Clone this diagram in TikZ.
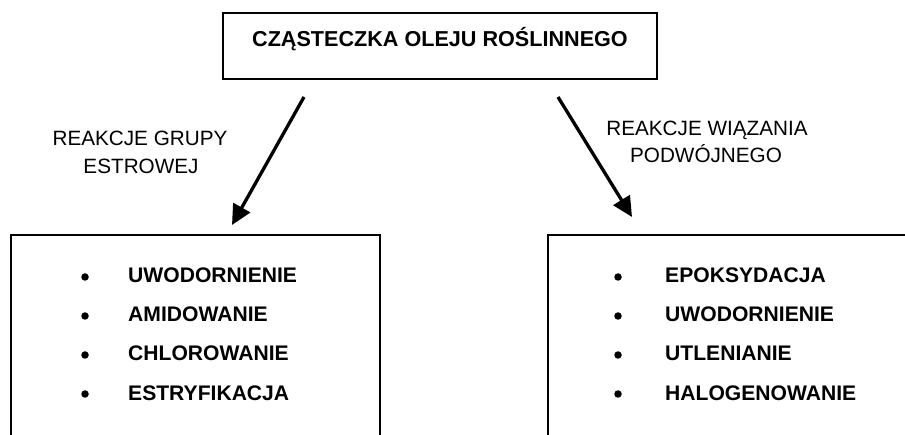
\documentclass[tikz,border=0pt]{standalone}
\usepackage{fontspec}
\setmainfont{Liberation Sans}
\usetikzlibrary{arrows.meta}
\begin{document}
\begin{tikzpicture}[x=1bp,y=-1bp,
  frame/.style={draw=black,line width=2bp,fill=none},
  lbl/.style={font=\fontsize{20.7bp}{24bp}\selectfont,inner sep=0pt,anchor=base},
  item/.style={font=\fontsize{21.1bp}{24bp}\selectfont\bfseries,inner sep=0pt,anchor=base west},
  bul/.style={circle,fill=black,inner sep=0pt,minimum size=7.5bp},
  arr/.style={line width=3.3bp,-{Triangle[length=20bp,width=19bp]}}]
\useasboundingbox (0,0) rectangle (905,435);
\clip (0,0) rectangle (905,435);
% top box
\node[frame,minimum width=434bp,minimum height=66bp,anchor=north west] (top) at (222,12) {};
\node[lbl,font=\fontsize{21.6bp}{24bp}\selectfont\bfseries] (title) at (440,47) {CZĄSTECZKA OLEJU ROŚLINNEGO};
% lower boxes (extend beyond the page)
\node[frame,minimum width=369bp,minimum height=230bp,anchor=north west] (left) at (10,234) {};
\node[frame,minimum width=380bp,minimum height=230bp,anchor=north west] (right) at (547,234) {};
% arrows
\coordinate (la) at (304,97);
\coordinate (lb) at (232,225);
\coordinate (ra) at (558,97);
\coordinate (rb) at (632,217);
\draw[arr] (la) -- (lb);
\draw[arr] (ra) -- (rb);
% labels
\node[lbl] (l1) at (140,146) {REAKCJE GRUPY};
\node[lbl] (l2) at (141,174) {ESTROWEJ};
\node[lbl] (r1) at (707,136) {REAKCJE WIĄZANIA};
\node[lbl] (r2) at (706,163) {PODWÓJNEGO};
% left items
\node[bul] (lb1) at (85,277) {};
\node[bul] (lb2) at (85,316) {};
\node[bul] (lb3) at (85,355) {};
\node[bul] (lb4) at (85,394) {};
\node[item] (li1) at (128,283) {UWODORNIENIE};
\node[item] (li2) at (128,322) {AMIDOWANIE};
\node[item] (li3) at (128,361) {CHLOROWANIE};
\node[item] (li4) at (128,400) {ESTRYFIKACJA};
% right items
\node[bul] (rb1) at (618,277) {};
\node[bul] (rb2) at (618,316) {};
\node[bul] (rb3) at (618,355) {};
\node[bul] (rb4) at (618,394) {};
\node[item] (ri1) at (665,283) {EPOKSYDACJA};
\node[item] (ri2) at (665,322) {UWODORNIENIE};
\node[item] (ri3) at (665,361) {UTLENIANIE};
\node[item] (ri4) at (665,400) {HALOGENOWANIE};
\end{tikzpicture}
\end{document}
